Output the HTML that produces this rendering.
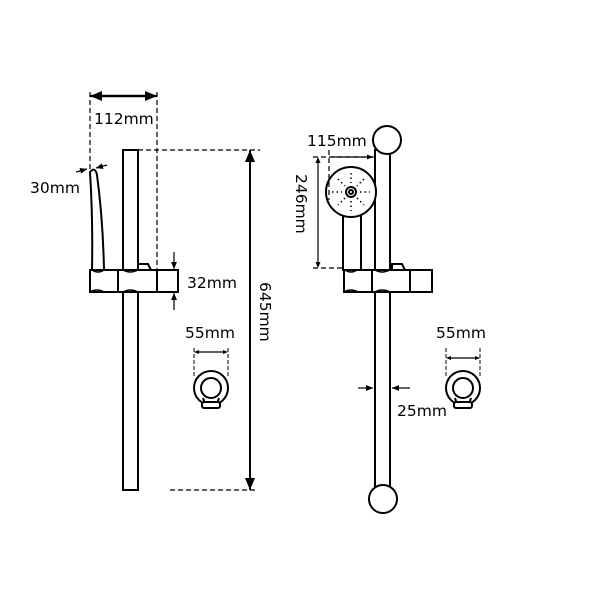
<!DOCTYPE html>
<html><head><style>body{margin:0;background:#fff}svg{display:block}text{font-family:"DejaVu Sans","Liberation Sans",sans-serif;font-size:15.5px;fill:#000}</style></head>
<body>
<svg width="600" height="600" viewBox="0 0 600 600" xmlns="http://www.w3.org/2000/svg">
<defs><marker id="a" markerWidth="12" markerHeight="10" refX="12" refY="5" orient="auto" markerUnits="userSpaceOnUse"><path d="M0,0 L12,5 L0,10z" fill="#000"/></marker>
<marker id="s" markerWidth="7" markerHeight="6" refX="7" refY="3" orient="auto" markerUnits="userSpaceOnUse"><path d="M0,0 L7,3 L0,6z" fill="#000"/></marker></defs>
<g fill="none" stroke="#000" stroke-width="2">
<g stroke-dasharray="5,3" stroke-width="1.2"><line x1="90" y1="92" x2="90" y2="172"/><line x1="157" y1="92" x2="157" y2="270"/><line x1="138" y1="150" x2="260" y2="150"/><line x1="170" y1="490" x2="258" y2="490"/></g>
<line x1="100" y1="96" x2="157" y2="96" marker-end="url(#a)" stroke-width="2.2"/>
<line x1="150" y1="96" x2="90" y2="96" marker-end="url(#a)" stroke-width="2.2"/>
<rect x="123" y="150" width="15" height="340" fill="#fff"/>
<path d="M90,172 Q95,166 97,175 Q103,220 104,270 L92,270 Q93,220 90,172z" fill="#fff"/>
<rect x="90" y="270" width="88" height="22" fill="#fff"/>
<line x1="118" y1="270" x2="118" y2="292"/><line x1="157" y1="270" x2="157" y2="292"/>
<path d="M138,270 L138,264 L148,264 L151,270"/>
<path d="M92,270 Q98,274 104,270 M123,270 Q130,274 138,270 M90,292 Q97,288 104,292 M123,292 Q130,288 138,292" stroke-width="1.4"/>
<line x1="250" y1="480" x2="250" y2="150" marker-end="url(#a)"/>
<line x1="250" y1="160" x2="250" y2="490" marker-end="url(#a)"/>
<line x1="76" y1="172" x2="87" y2="169" marker-end="url(#s)" stroke-width="1.2"/><line x1="107" y1="165" x2="96" y2="168" marker-end="url(#s)" stroke-width="1.2"/>
<line x1="174" y1="252" x2="174" y2="269" marker-end="url(#s)" stroke-width="1.2"/><line x1="174" y1="310" x2="174" y2="293" marker-end="url(#s)" stroke-width="1.2"/>
<g stroke-dasharray="4,2" stroke-width="1"><line x1="194" y1="348" x2="194" y2="378"/><line x1="228" y1="348" x2="228" y2="378"/><line x1="446" y1="348" x2="446" y2="378"/><line x1="480" y1="348" x2="480" y2="378"/></g>
<line x1="197" y1="352" x2="226" y2="352" stroke-width="1.2"/><path d="M194,352 l5,-2 v4z M228,352 l-5,-2 v4z" fill="#000" stroke="none"/>
<line x1="449" y1="358" x2="478" y2="358" stroke-width="1.2"/><path d="M446,358 l5,-2 v4z M480,358 l-5,-2 v4z" fill="#000" stroke="none"/>
<circle cx="211" cy="388" r="17"/><circle cx="211" cy="388" r="10"/><path d="M203,398 L205,404 L217,404 L219,398"/><rect x="202" y="402" width="18" height="6" rx="2" fill="#fff"/>
<circle cx="463" cy="388" r="17"/><circle cx="463" cy="388" r="10"/><path d="M455,398 L457,404 L469,404 L471,398"/><rect x="454" y="402" width="18" height="6" rx="2" fill="#fff"/>
<rect x="375" y="150" width="15" height="345" fill="#fff"/>
<circle cx="387" cy="140" r="14" fill="#fff"/><circle cx="383" cy="499" r="14" fill="#fff"/>
<rect x="343" y="212" width="18" height="58" fill="#fff"/>
<circle cx="351" cy="192" r="25" fill="#fff"/>
<circle cx="351" cy="192" r="5"/><circle cx="351" cy="192" r="2"/>
<g stroke-dasharray="1.5,3" stroke-width="1.5"><line x1="351" y1="173" x2="351" y2="183"/><line x1="351" y1="201" x2="351" y2="211"/><line x1="332" y1="192" x2="342" y2="192"/><line x1="360" y1="192" x2="370" y2="192"/><line x1="338" y1="179" x2="345" y2="186"/><line x1="357" y1="198" x2="364" y2="205"/><line x1="364" y1="179" x2="357" y2="186"/><line x1="345" y1="198" x2="338" y2="205"/></g>
<rect x="344" y="270" width="88" height="22" fill="#fff"/>
<line x1="372" y1="270" x2="372" y2="292"/><line x1="410" y1="270" x2="410" y2="292"/>
<path d="M392,270 L392,264 L402,264 L405,270"/>
<path d="M344,292 Q351,288 358,292 M375,270 Q382,274 390,270 M375,292 Q382,288 390,292 M345,270 Q351,274 357,270" stroke-width="1.4"/>
<g stroke-dasharray="5,3" stroke-width="1.2"><line x1="313" y1="157" x2="375" y2="157"/><line x1="313" y1="268" x2="345" y2="268"/><line x1="329" y1="150" x2="329" y2="200"/></g>
<line x1="331" y1="157" x2="373" y2="157" stroke-width="1.2"/><path d="M373,157 l-6,-2.5 v5z" fill="#000" stroke="none"/>
<line x1="318" y1="160" x2="318" y2="266" stroke-width="1.2"/><path d="M318,157 l-2.5,6 h5z M318,268 l-2.5,-6 h5z" fill="#000" stroke="none"/>
<line x1="358" y1="388" x2="373" y2="388" marker-end="url(#s)" stroke-width="1.2"/><line x1="410" y1="388" x2="392" y2="388" marker-end="url(#s)" stroke-width="1.2"/>
</g>
<text x="94" y="124">112mm</text>
<text x="30" y="193">30mm</text>
<text x="187" y="288">32mm</text>
<text x="185" y="338">55mm</text>
<text x="436" y="338">55mm</text>
<text x="307" y="146">115mm</text>
<text x="397" y="416">25mm</text>
<text transform="translate(260,282) rotate(90)">645mm</text>
<text transform="translate(296,174) rotate(90)">246mm</text>
</svg>
</body></html>
